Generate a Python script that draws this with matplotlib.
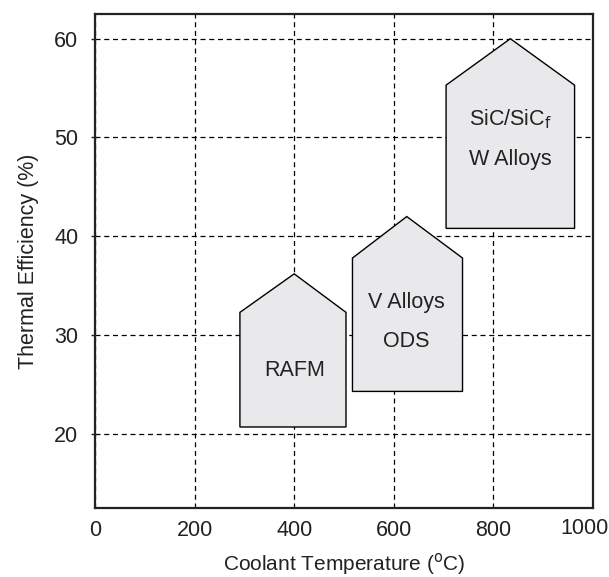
import matplotlib.pyplot as plt
from matplotlib.patches import Polygon
from matplotlib.transforms import ScaledTranslation

plt.rcParams['font.family'] = ['Liberation Sans', 'DejaVu Sans']

# material windows: (left, right, apex x, bottom, shoulder, apex)
names = ['RAFM', 'V Alloys\n\nODS', 'SiC/SiC$_{\\rm f}$\n\nW Alloys']
left = [291, 517, 705]
right = [504, 738, 963]
apex_x = [400, 626, 834]
bottom = [20.7, 24.3, 40.8]
shoulder = [32.3, 37.8, 55.3]
apex = [36.2, 42.0, 60.0]
label_y = [26.4, 31.35, 49.85]

xticks = [0, 200, 400, 600, 800, 1000]
yticks = [20, 30, 40, 50, 60]

fig = plt.figure(figsize=(6.09, 5.77), dpi=100)
ax = fig.add_axes([95 / 609, 69 / 577, 498 / 609, 494 / 577])

for i in range(len(names)):
    pts = [(left[i], bottom[i]), (right[i], bottom[i]), (right[i], shoulder[i]),
           (apex_x[i], apex[i]), (left[i], shoulder[i])]
    ax.add_patch(Polygon(pts, closed=True, facecolor='#e9e9eb',
                         edgecolor='black', linewidth=1.0, zorder=3))
    ax.text(apex_x[i], label_y[i], names[i], ha='center', va='center',
            fontsize=15.5, color='#222222', zorder=4, linespacing=0.9)

ax.set_xlim(0, 1000)
ax.set_ylim(12.5, 62.5)
ax.set_xticks(xticks)
ax.set_yticks(yticks)
ax.grid(True, color='black', linestyle=(0, (4, 3)), linewidth=0.9, zorder=1)
ax.set_axisbelow(True)
ax.tick_params(axis='x', length=0, pad=9, labelsize=15.5, colors='#222222')
ax.tick_params(axis='y', direction='out', length=3, width=1, pad=9,
               labelsize=15.5, colors='#222222')
for s in ax.spines.values():
    s.set_linewidth(1.6)
    s.set_color('#222222')

# last x label sits a little left, as in the source figure
lab = ax.get_xticklabels()[-1]
lab.set_transform(lab.get_transform() + ScaledTranslation(-0.09, 0.02, fig.dpi_scale_trans))

ax.set_xlabel('Coolant Temperature ($^{\\rm o}$C)', fontsize=15, labelpad=7,
              color='#222222')
ax.set_ylabel('Thermal Efficiency (%)', fontsize=15.5, labelpad=11,
              color='#222222')

fig.savefig('out.png', dpi=100)
